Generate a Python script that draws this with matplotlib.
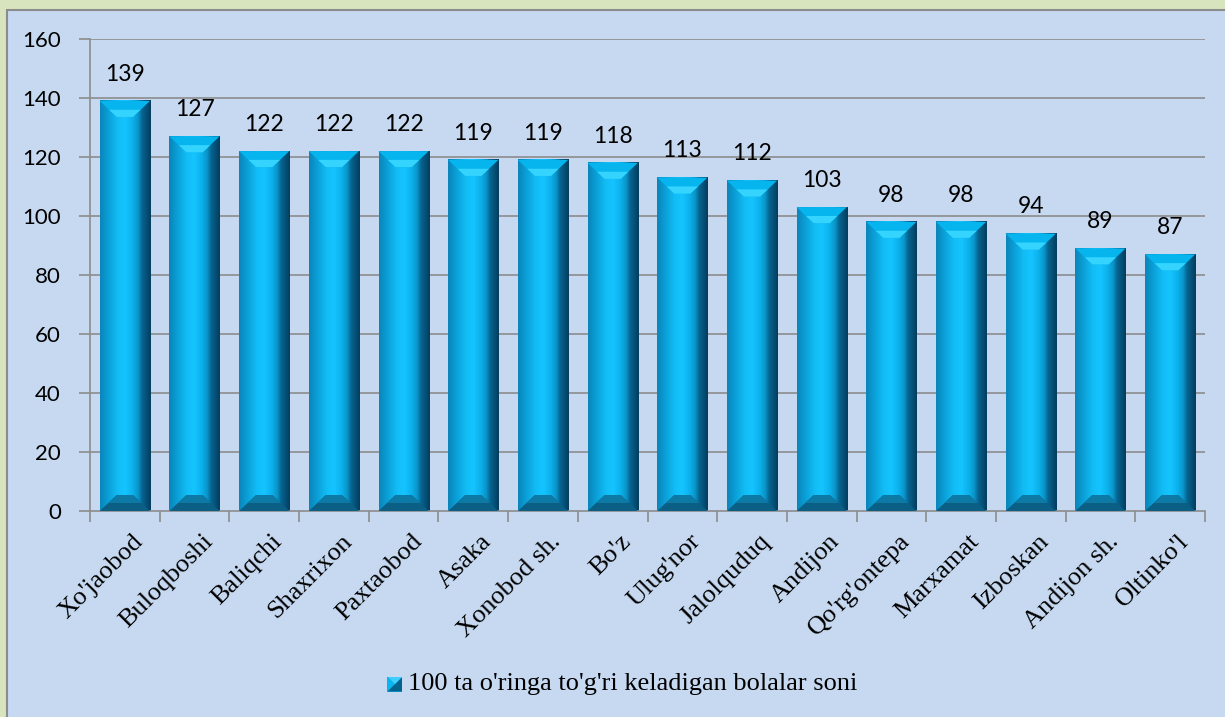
import matplotlib.pyplot as plt
from matplotlib.patches import Polygon, Rectangle
from matplotlib.colors import LinearSegmentedColormap
import numpy as np

districts = ["Xo'jaobod", "Buloqboshi", "Baliqchi", "Shaxrixon", "Paxtaobod", "Asaka",
             "Xonobod sh.", "Bo'z", "Ulug'nor", "Jalolquduq", "Andijon", "Qo'rg'ontepa",
             "Marxamat", "Izboskan", "Andijon sh.", "Oltinko'l"]
values = [139, 127, 122, 122, 122, 119, 119, 118, 113, 112, 103, 98, 98, 94, 89, 87]
series_name = "100 ta o'ringa to'g'ri keladigan bolalar soni"
yticks = [0, 20, 40, 60, 80, 100, 120, 140, 160]

W, H = 1225, 717
fig = plt.figure(figsize=(W / 100, H / 100), dpi=100)
fig.patch.set_facecolor('#d7e4bd')
# inner chart panel
panel = Rectangle((7 / W, -0.01), 1.02, (H - 10) / H + 0.01, transform=fig.transFigure,
                  facecolor='#c6d9f1', edgecolor='#8c8c8c', lw=1.5, zorder=-10)
fig.patches.append(panel)

L, R, T, B = 90, 1205, 39, 511
ax = fig.add_axes([L / W, (H - B) / H, (R - L) / W, (B - T) / H])
ax.set_facecolor('none')
n = len(values)

# grid
for y in yticks[1:]:
    ax.axhline(y, color='#8c8c8c', lw=1.2, zorder=1)
for s in ['top', 'right']:
    ax.spines[s].set_visible(False)
for s in ['left', 'bottom']:
    ax.spines[s].set_color('#8c8c8c')
    ax.spines[s].set_linewidth(1.2)

ax.set_yticks(yticks)
ax.tick_params(axis='y', length=8, width=1.2, color='#8c8c8c', pad=13, labelsize=16)
for lab in ax.get_yticklabels():
    lab.set_fontfamily('Lato')

ax.set_xticks(np.arange(-0.5, n, 1.0))
ax.set_xticklabels([])
ax.tick_params(axis='x', length=8, width=1.2, color='#8c8c8c')
for i, name in enumerate(districts):
    ax.text(i + 0.1, -6.5, name, rotation=45, rotation_mode='anchor', ha='right', va='top',
            fontsize=19, family='Liberation Serif', clip_on=False)

# beveled bars
face = LinearSegmentedColormap.from_list('face', [
    (0.0, '#0a86bb'), (0.15, '#0b9ed6'), (0.35, '#12bdf5'), (0.5, '#15c4ff'),
    (0.65, '#0cb0ea'), (0.76, '#0a92c6'), (0.84, '#06628e'), (1.0, '#043f60')])
grad = np.linspace(0, 1, 64).reshape(1, -1)
pxx = (R - L) / n
pxy = (B - T) / 160
bw = 0.72
bx = 17 / pxx
by = 16 / pxy
for i, v in enumerate(values):
    x0, x1 = i - bw / 2, i + bw / 2
    ax.imshow(grad, cmap=face, extent=(x0, x1, 0, v), aspect='auto', zorder=2,
              interpolation='bilinear')
    # top bevel
    ax.add_patch(Polygon([(x0, v), (x0 + bx, v - by), (x1 - bx, v - by), (x1, v)],
                         facecolor='#06b4ee', edgecolor='none', zorder=4))
    ax.add_patch(Polygon([(x0 + bx * 0.55, v - by * 0.55), (x1 - bx * 0.55, v - by * 0.55),
                          (x1 - bx, v - by), (x0 + bx, v - by)],
                         facecolor='#34d4ff', edgecolor='none', zorder=4))
    # bottom bevel
    ax.add_patch(Polygon([(x0, 0), (x0 + bx, by), (x1 - bx, by), (x1, 0)],
                         facecolor='#0b5e84', edgecolor='none', zorder=4))
    ax.add_patch(Polygon([(x0 + bx * 0.5, by * 0.5), (x0 + bx, by), (x1 - bx, by),
                          (x1 - bx * 0.5, by * 0.5)],
                         facecolor='#0d7aa6', edgecolor='none', zorder=4))
    ax.text(i, v + 5.5, str(v), ha='center', va='bottom', fontsize=16.5, family='Lato', zorder=6)

ax.set_xlim(-0.5, n - 0.5)
ax.set_ylim(0, 160)

# legend
lx, ly = 395 / W, 1 - 684 / H
s = 15
kx = fig.add_axes([lx - s / 2 / W, ly - s / 2 / H, s / W, s / H])
kx.set_xlim(0, 1); kx.set_ylim(0, 1); kx.axis('off')
kx.add_patch(Polygon([(0, 0), (0, 1), (1, 1), (1, 0)], facecolor='#0ab4ef', edgecolor='none'))
kx.add_patch(Polygon([(0, 0), (1, 0), (1, 1), (0.5, 0.5)], facecolor='#04638c', edgecolor='none'))
kx.add_patch(Polygon([(0, 1), (1, 1), (0.5, 0.5)], facecolor='#3fcfff', edgecolor='none'))
fig.text(lx + 13 / W, ly, series_name, ha='left', va='center', fontsize=19, family='Liberation Serif')

fig.savefig('out.png', dpi=100, facecolor=fig.get_facecolor())
